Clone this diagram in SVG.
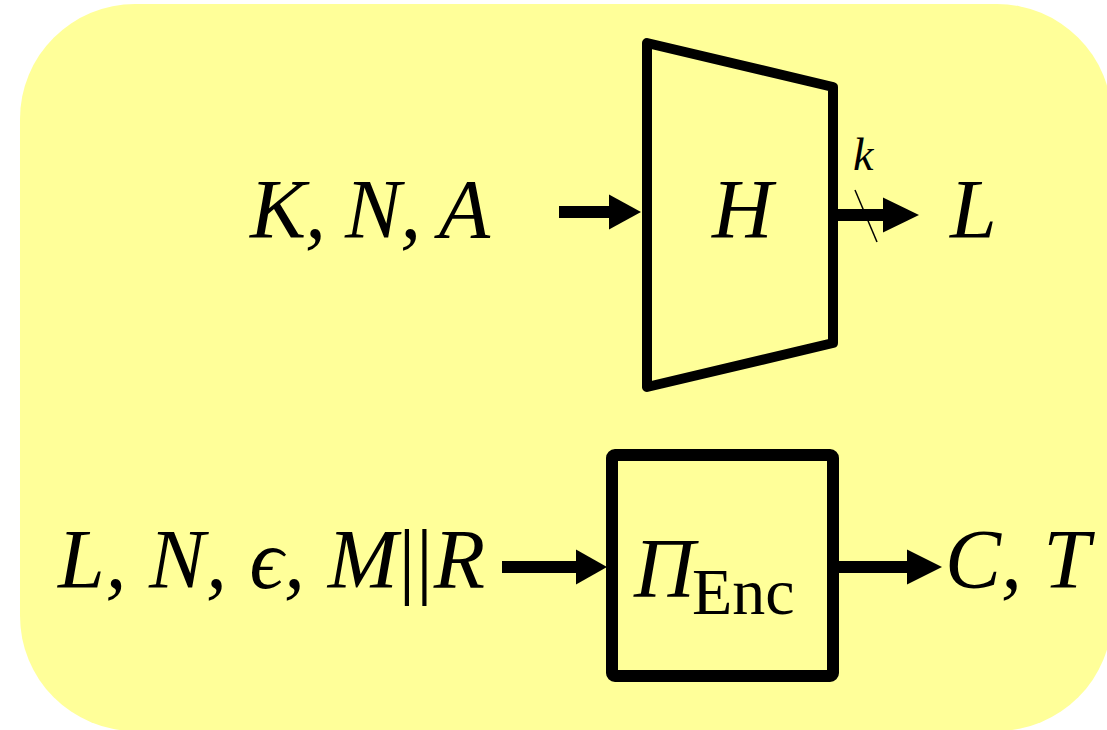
<svg xmlns="http://www.w3.org/2000/svg" width="1107" height="730" viewBox="0 0 1107 730">
<defs>
<style>
.m{font-family:"Liberation Serif","DejaVu Serif",serif;font-style:italic;fill:#000}
.u{font-family:"Liberation Serif","DejaVu Serif",serif;font-style:normal;fill:#000}
.blk{fill:none;stroke:#000;stroke-linejoin:round}
.ln{stroke:#000;stroke-width:12;fill:none}
.hd{fill:#000}
</style>
</defs>
<rect x="20" y="4" width="1092" height="727" rx="115" ry="115" fill="#FFFF99"/>
<g id="hash">
<path class="blk" stroke-width="10" d="M647,43 L833,87 L833,343 L647,387 Z"/>
<text class="m" x="712" y="238" font-size="84">H</text>
</g>
<g id="enc">
<rect class="blk" stroke-width="12" x="612" y="455" width="221" height="221" rx="3"/>
<text class="m" x="634" y="597" font-size="84">Π</text>
<text class="u" x="692" y="614" font-size="66">Enc</text>
</g>
<g id="in1"><text class="m" x="250" y="238" font-size="84" textLength="240" lengthAdjust="spacing">K, N, A</text></g>
<g id="out1"><text class="m" x="950" y="238" font-size="84">L</text></g>
<g id="in2"><text class="m" x="58" y="588" font-size="84" textLength="427" lengthAdjust="spacing">L, N, ϵ, M<tspan class="u">||</tspan>R</text></g>
<g id="out2"><text class="m" x="945" y="588" font-size="84" textLength="145" lengthAdjust="spacing">C, T</text></g>
<g id="connectors">
<line class="ln" x1="559" y1="212" x2="612" y2="212"/>
<polygon class="hd" points="609,194.5 641,212 609,229.5"/>
<line class="ln" x1="838" y1="215" x2="886" y2="215"/>
<polygon class="hd" points="883,197.5 919,215 883,232.5"/>
<line x1="855" y1="190" x2="877" y2="242" stroke="#000" stroke-width="1.5"/>
<text class="m" x="853" y="170" font-size="46">k</text>
<line class="ln" x1="502" y1="567" x2="579" y2="567"/>
<polygon class="hd" points="576,549.5 607,567 576,584.5"/>
<line class="ln" x1="839" y1="567" x2="910" y2="567"/>
<polygon class="hd" points="907,549.5 942,567 907,584.5"/>
</g>
</svg>
